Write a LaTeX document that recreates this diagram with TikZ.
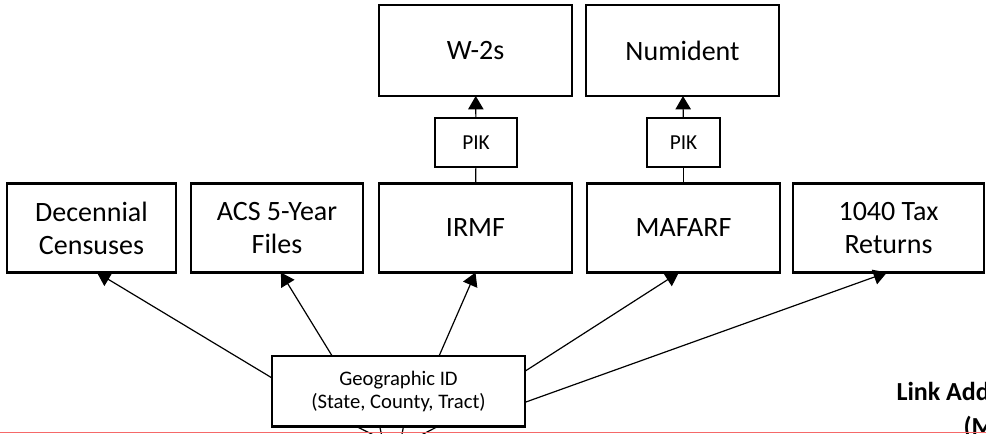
\documentclass[tikz,border=0pt]{standalone}
\usepackage{fontspec}
\setmainfont{Carlito}
\usetikzlibrary{arrows.meta}

\tikzset{every picture/.style={line width=0.75pt}}
\tikzset{
	srcbox/.style={draw, line width=2pt, inner sep=0pt, outer sep=0pt, align=center,
		minimum height=66.75pt, font=\fontsize{21}{24.75}\selectfont},
	topbox/.style={srcbox, minimum height=68.25pt},
	pikbox/.style={draw, line width=1.1pt, inner sep=0pt, outer sep=0pt,
		minimum height=36.75pt, font=\fontsize{16}{19}\selectfont},
	geobox/.style={draw, line width=1.75pt, inner sep=0pt, outer sep=0pt, align=center,
		minimum width=189.75pt, minimum height=52.9pt, font=\fontsize{15.5}{17.6}\selectfont},
	link/.style={line width=0.9pt, -{Triangle[width=11.5pt,length=10pt]}},
	plainlink/.style={line width=0.9pt},
	cuttext/.style={anchor=base west, inner sep=0pt, font=\fontsize{19.5}{22}\selectfont\bfseries}
}

\begin{document}
\begin{tikzpicture}[x=0.75pt,y=0.75pt,yscale=-1,xscale=1]
	\useasboundingbox (0,0) rectangle (986,433);
	\clip (0,0) rectangle (986,433);

	%Shape: Rectangle (top row)
	\node[topbox, minimum width=144.75pt] (wtwo) at (475.5,50.5) {W-2s};
	\node[topbox, minimum width=144.75pt] (numident) at (682.5,50.5) {Numident};

	%Shape: Rectangle (PIK)
	\node[pikbox, minimum width=61.5pt] (pikA) at (476,142.5) {PIK};
	\node[pikbox, minimum width=54.75pt] (pikB) at (683.5,142.5) {PIK};

	%Shape: Rectangle (middle row)
	\node[srcbox, minimum width=126.75pt] (decennial) at (91.5,228) {Decennial\\Censuses};
	\node[srcbox, minimum width=129pt] (acs) at (277,228) {ACS 5-Year\\Files};
	\node[srcbox, minimum width=144.75pt] (irmf) at (475.5,228) {IRMF};
	\node[srcbox, minimum width=144.75pt] (mafarf) at (683.5,228) {MAFARF};
	\node[srcbox, minimum width=143.25pt] (taxret) at (888.5,228) {1040 Tax\\Returns};

	%Shape: Rectangle (geography)
	\node[geobox] (geo) at (398.5,391.25) {Geographic ID\\(State, County, Tract)};

	% Text Node
	\node[cuttext] (linkA) at (896,400) {Link Add};
	% Text Node
	\node[cuttext] (linkB) at (963,435) {(M};

	%Straight Lines
	\draw[plainlink] (irmf) -- (pikA);
	\draw[link] (pikA) -- (wtwo);
	\draw[plainlink] (mafarf) -- (pikB);
	\draw[link] (pikB) -- (numident);

	\draw[link] (geo.174) -- (decennial.-83);
	\draw[link] (geo.152.1) -- (acs.-85);
	\draw[link] (geo.41.7) -- (irmf.south);
	\draw[link] (geo.9.5) -- (mafarf.-96);
	\draw[link] (geo.-5.8) -- (taxret.-92.3);

	%Lines leaving the bottom
	\coordinate (lowA) at (396,446);
	\coordinate (lowB) at (386,455);
	\coordinate (lowC) at (398,455);
	\coordinate (lowD) at (400,446);
	\draw[plainlink] (geo.-140.3) -- (lowA);
	\draw[plainlink] (geo.-118.9) -- (lowB);
	\draw[plainlink] (geo.-82.7) -- (lowC);
	\draw[plainlink] (geo.-42.5) -- (lowD);

	%Shape: Line (red)
	\draw[line width=1pt, color={rgb, 255:red, 245; green, 105; blue, 105}] (0,432.3) -- (986,432.3);

\end{tikzpicture}
\end{document}
